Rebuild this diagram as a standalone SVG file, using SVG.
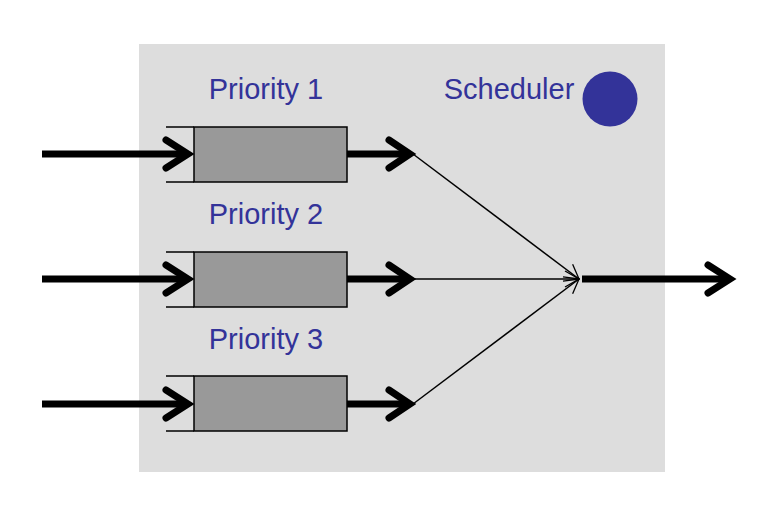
<svg xmlns="http://www.w3.org/2000/svg" width="768" height="514" viewBox="0 0 768 514">
<defs>
<marker id="thin" viewBox="0 0 16 18" refX="15" refY="9" markerWidth="16" markerHeight="18" markerUnits="userSpaceOnUse" orient="auto">
<path d="M1,1 L15,9 L1,17" fill="none" stroke="#000" stroke-width="1.3"/>
</marker>
</defs>
<style>
.lbl{font-family:"Liberation Sans",Arial,sans-serif;font-size:29px;fill:#333399}
.box{fill:#999999;stroke:#000;stroke-width:1.5}
.brk{stroke:#000;stroke-width:1.5;fill:none}
.thick{stroke:#000;stroke-width:7;fill:none}
.chev{stroke:#000;stroke-width:7;fill:none;stroke-linecap:round;stroke-linejoin:miter}
.thin{stroke:#000;stroke-width:1.5;fill:none;marker-end:url(#thin)}
</style>
<rect id="scheduler-bg" x="139" y="44" width="526" height="428" fill="#dddddd"/>
<g id="scheduler">
<text class="lbl" x="509" y="99" text-anchor="middle">Scheduler</text>
<circle cx="610" cy="99" r="27.5" fill="#333399"/>
</g>
<g id="queue1">
<text class="lbl" x="266" y="99" text-anchor="middle">Priority 1</text>
<path class="brk" d="M166,127 H194 M166,182 H194"/>
<rect class="box" x="194" y="127" width="153" height="55"/>
</g>
<g id="queue2">
<text class="lbl" x="266" y="224" text-anchor="middle">Priority 2</text>
<path class="brk" d="M166,252 H194 M166,307 H194"/>
<rect class="box" x="194" y="252" width="153" height="55"/>
</g>
<g id="queue3">
<text class="lbl" x="266" y="349" text-anchor="middle">Priority 3</text>
<path class="brk" d="M166,376 H194 M166,431 H194"/>
<rect class="box" x="194" y="376" width="153" height="55"/>
</g>
<g id="connectors">
<path class="thick" d="M42,154 H186 M42,279 H186 M42,404 H186"/>
<path class="chev" d="M166,140 L188,154 L166,168 M166,265 L188,279 L166,293 M166,390 L188,404 L166,418"/>
<path class="thick" d="M347,154 H408 M347,279 H408 M347,404 H408"/>
<path class="chev" d="M389,140 L410,154 L389,168 M389,265 L410,279 L389,293 M389,390 L410,404 L389,418"/>
<path class="thin" d="M413,154 L579,279"/>
<path class="thin" d="M413,279 L579,279"/>
<path class="thin" d="M413,404 L579,279"/>
<path class="thick" d="M582,279 H727"/>
<path class="chev" d="M708,265 L730,279 L708,293"/>
</g>
</svg>
